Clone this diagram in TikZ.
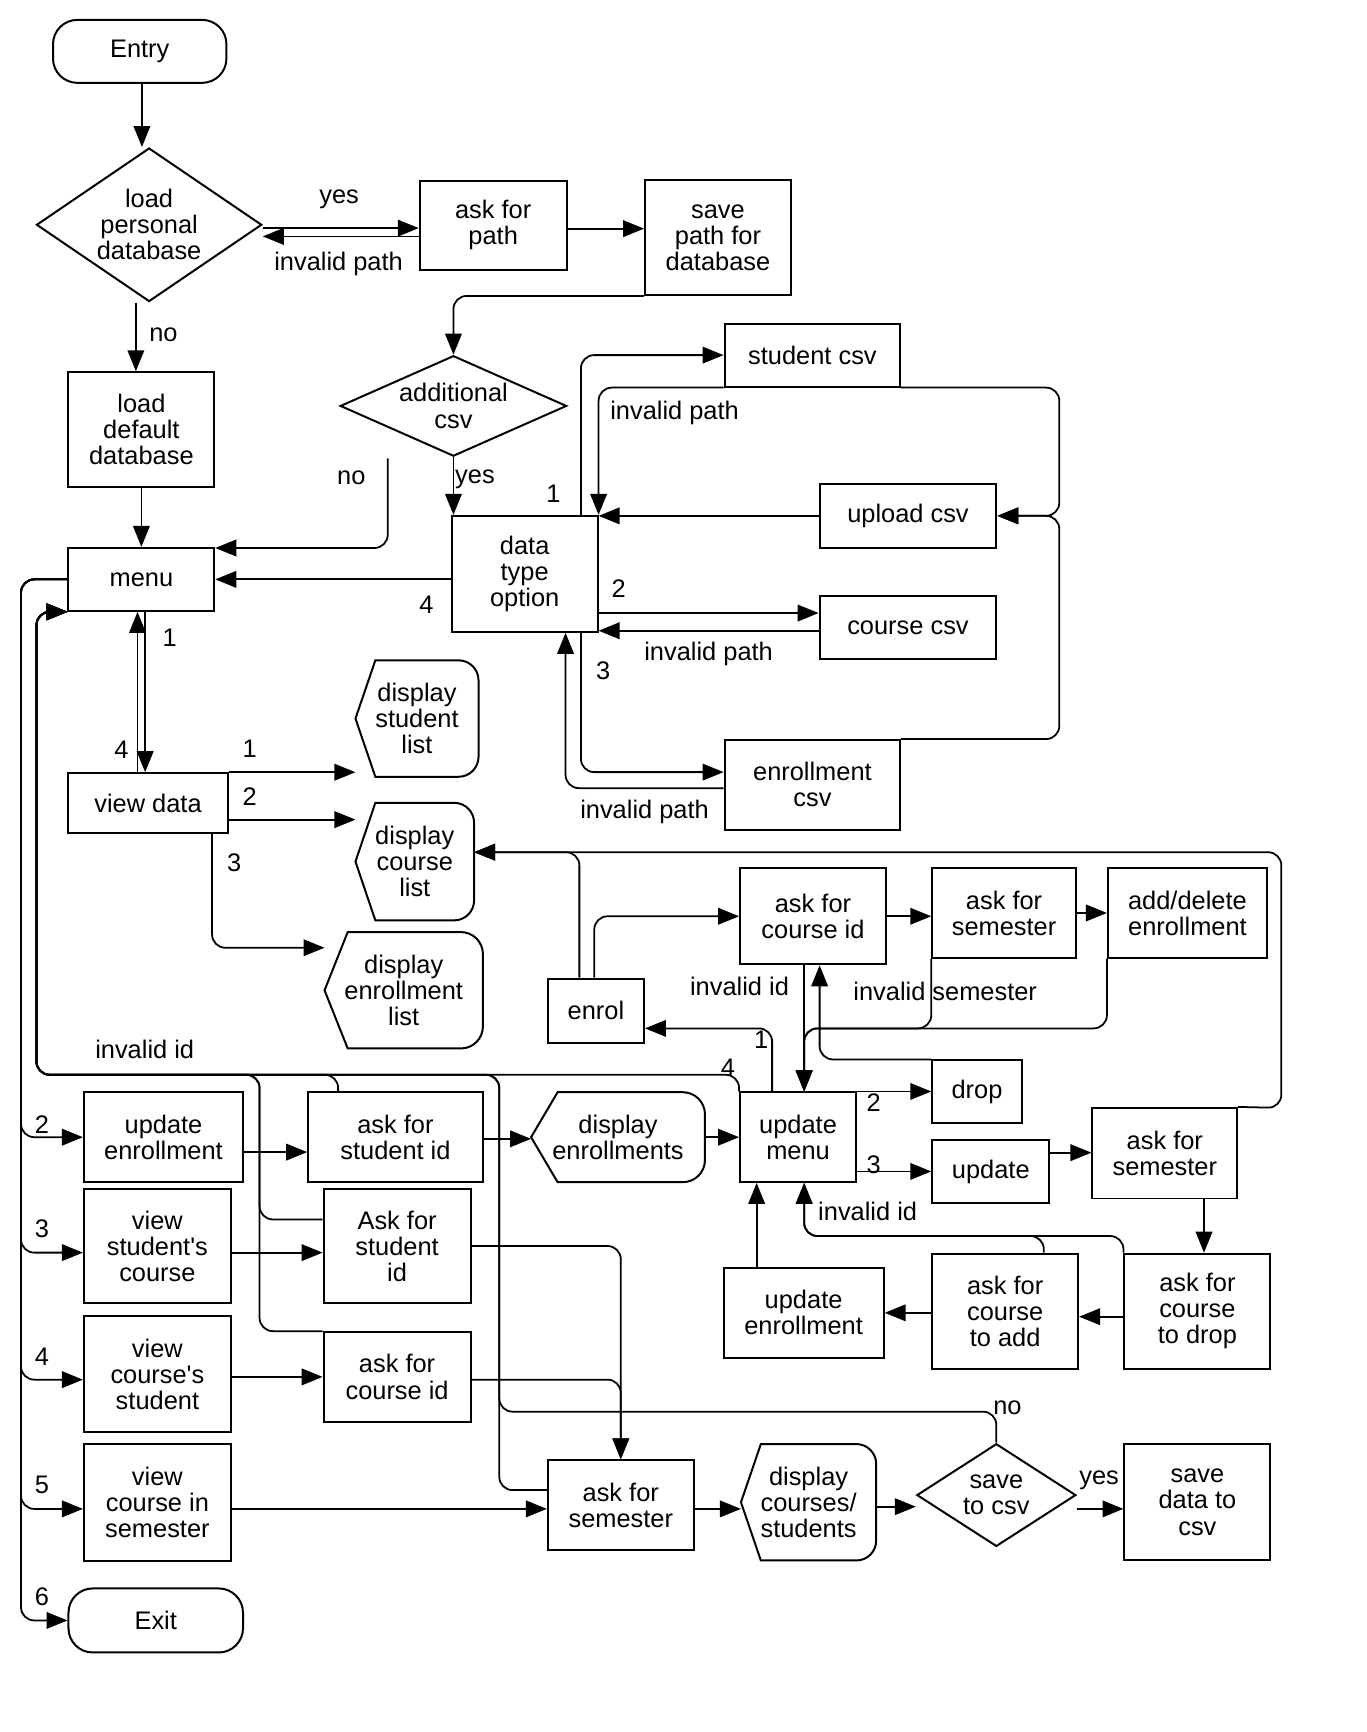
\documentclass[tikz,border=0pt]{standalone}
\usepackage{fontspec}
\setmainfont{Liberation Sans}
\usetikzlibrary{arrows.meta,shapes.geometric}
\newcommand\dispdraw[3]{%
  \draw[line width=1.8pt] ([xshift=#2]#1.north west) [rounded corners=#3]-- (#1.north east) -- (#1.south east) [sharp corners]-- ([xshift=#2]#1.south west) -- (#1.west) -- cycle;}
\begin{document}
\begin{tikzpicture}[x=1pt,y=-1pt,
 font=\fontsize{23}{23.6}\selectfont,
 box/.style={draw, line width=1.8pt, inner sep=0pt, align=center},
 term/.style={box, rounded corners=22pt},
 dia/.style={box, shape=diamond},
 dispbox/.style={inner sep=0pt, align=center},
 arr/.style={line width=1.6pt, -{Triangle[length=19pt,width=15pt]}},
 rarr/.style={arr, rounded corners=12pt},
 lbl/.style={inner sep=0pt, anchor=base},
]
\fill[white] (0,0) rectangle (1237,1568);
\useasboundingbox (0,0) rectangle (1237,1568);

% nodes
\node[term, minimum width=157pt, minimum height=57pt] (entry) at (126.5,46.5) {Entry};
\node[dia, aspect=1.47, minimum width=204pt, minimum height=139pt] (lpd) at (135,203.5) {load\\personal\\database};
\node[box, minimum width=133pt, minimum height=81pt] (askpath) at (446.5,204) {ask for\\path};
\node[box, minimum width=132pt, minimum height=104pt] (savepath) at (650,215) {save\\path for\\database};
\node[box, minimum width=132pt, minimum height=104pt] (loaddef) at (128,389) {load\\default\\database};
\node[dia, aspect=2.25, minimum width=205pt, minimum height=91pt] (addcsv) at (410.5,367.5) {additional\\csv};
\node[box, minimum width=159pt, minimum height=57pt] (studentcsv) at (735.5,321.5) {student csv};
\node[box, minimum width=160pt, minimum height=58pt] (uploadcsv) at (822,467) {upload csv};
\node[box, minimum width=132pt, minimum height=105pt] (dto) at (475,519.5) {data\\type\\option};
\node[box, minimum width=132pt, minimum height=57pt] (menu) at (128,524.5) {menu};
\node[box, minimum width=160pt, minimum height=57pt] (coursecsv) at (822,568.5) {course csv};
\node[box, minimum width=159pt, minimum height=81pt] (enrcsv) at (735.5,710.5) {enrollment\\csv};
\node[dispbox, minimum width=111pt, minimum height=105pt] (dsl) at (377.5,650.5) {display\\student\\list};
\node[box, minimum width=144pt, minimum height=54pt] (viewdata) at (134,727) {view data};
\node[dispbox, minimum width=107pt, minimum height=106pt] (dcl) at (375.5,780) {display\\course\\list};
\node[dispbox, minimum width=143pt, minimum height=105pt] (del) at (365.5,896.5) {display\\enrollment\\list};
\node[box, minimum width=87pt, minimum height=58pt] (enrol) at (539.5,915) {enrol};
\node[box, minimum width=132pt, minimum height=87pt] (acid1) at (736,829.5) {ask for\\course id};
\node[box, minimum width=130pt, minimum height=81pt] (asem1) at (909,826.5) {ask for\\semester};
\node[box, minimum width=144pt, minimum height=81pt] (adddel) at (1075,826.5) {add/delete\\enrollment};
\node[box, minimum width=81pt, minimum height=57pt] (drop) at (884.5,988.5) {drop};
\node[box, minimum width=105pt, minimum height=81pt] (updmenu) at (722.5,1029.5) {update\\menu};
\node[box, minimum width=106pt, minimum height=57pt] (update) at (897,1060.5) {update};
\node[box, minimum width=131pt, minimum height=82pt] (asem2) at (1054.5,1044) {ask for\\semester};
\node[box, minimum width=144pt, minimum height=81pt] (updenr1) at (148,1029.5) {update\\enrollment};
\node[box, minimum width=158pt, minimum height=81pt] (asid1) at (358,1029.5) {ask for\\student id};
\node[dispbox, minimum width=157pt, minimum height=81pt] (dens) at (559.5,1029.5) {display\\enrollments};
\node[box, minimum width=133pt, minimum height=104pt] (vsc) at (142.5,1128) {view\\student\textquotesingle s\\course};
\node[box, minimum width=133pt, minimum height=104pt] (asid2) at (359.5,1128) {Ask for\\student\\id};
\node[box, minimum width=145pt, minimum height=82pt] (updenr2) at (727.5,1188.5) {update\\enrollment};
\node[box, minimum width=132pt, minimum height=104pt] (acadd) at (910,1187) {ask for\\course\\to add};
\node[box, minimum width=132pt, minimum height=104pt] (acdrop) at (1084,1187) {ask for\\course\\to drop};
\node[box, minimum width=133pt, minimum height=105pt] (vcs) at (142.5,1244) {view\\course\textquotesingle s\\student};
\node[box, minimum width=133pt, minimum height=81pt] (acid2) at (359.5,1246.5) {ask for\\course id};
\node[box, minimum width=133pt, minimum height=106pt] (vcis) at (142.5,1360) {view\\course in\\semester};
\node[box, minimum width=132pt, minimum height=81pt] (asem3) at (562,1362.5) {ask for\\semester};
\node[dispbox, minimum width=122pt, minimum height=105pt] (dcs) at (732,1360) {display\\courses/\\students};
\node[dia, aspect=1.55, minimum width=144pt, minimum height=93pt] (save2csv) at (902,1353.5) {save\\to csv};
\node[box, minimum width=132pt, minimum height=105pt] (savedata) at (1084,1360) {save\\data to\\csv};
\node[term, minimum width=158pt, minimum height=58pt] (exit) at (141,1467) {Exit};

\dispdraw{dsl}{18pt}{18pt}
\dispdraw{dcl}{18pt}{18pt}
\dispdraw{del}{21pt}{20pt}
\dispdraw{dens}{24pt}{20pt}
\dispdraw{dcs}{18pt}{18pt}

% top connectors
\draw[arr] ([xshift=2pt]entry.south) -- ([xshift=2pt]entry.south |- lpd.north);
\draw[arr] ([yshift=-3pt]lpd.east) -- ([yshift=-3pt]lpd.east -| askpath.west);
\draw[arr] ([yshift=-10pt]askpath.west) -- ([yshift=-10pt]askpath.west -| lpd.east);
\draw[arr] ([yshift=-3pt]askpath.east) -- ([yshift=-3pt]askpath.east -| savepath.west);
\draw[rarr] (savepath.south west) -| (addcsv.north);
\draw[arr] ([xshift=-12pt]lpd.south) -- ([xshift=-12pt]lpd.south |- loaddef.north);
\draw[arr] (loaddef.south) -- (menu.north);
\coordinate (nostart) at (351,415);
\draw[rarr] (nostart) |- ([yshift=-1pt]menu.north east);
\draw[arr] (addcsv.south) -- (addcsv.south |- dto.north);
\draw[rarr] ([xshift=-16pt]dto.north east) |- (studentcsv.west);
\draw[rarr] (studentcsv.south west) -| (dto.north east);
\coordinate (rbus) at (959,467);
\draw[rarr] (studentcsv.south east) -| (rbus) -- (uploadcsv.east);
\draw[rarr] (enrcsv.north east) -| (rbus) -- (uploadcsv.east);
\draw[arr] (uploadcsv.west) -- (uploadcsv.west -| dto.east);
\draw[arr] ([yshift=13.5pt]coursecsv.west -| dto.east) -- ([yshift=13.5pt]coursecsv.west);
\draw[arr] ([yshift=-2.5pt]coursecsv.west) -- ([yshift=-2.5pt]coursecsv.west -| dto.east);
\draw[rarr] ([xshift=-16pt]dto.south east) |- ([yshift=11.5pt]enrcsv.west);
\draw[rarr] ([yshift=-3pt]enrcsv.west) -| ([xshift=37pt]dto.south);
\draw[arr] ([yshift=-5pt]dto.west) -- ([yshift=-5pt]dto.west -| menu.east);
\draw[arr] ([xshift=3.4pt]menu.south) -- ([xshift=3.4pt]menu.south |- viewdata.north);
\draw[arr] ([xshift=-3.5pt]menu.south |- viewdata.north) -- ([xshift=-3.5pt]menu.south);
\draw[arr] (viewdata.north east) -- (viewdata.north east -| dsl.west);
\draw[arr] ([yshift=-15pt]viewdata.east) -- ([yshift=-15pt]viewdata.east -| dcl.west);
\draw[rarr] ([xshift=58pt]viewdata.south) |- ([yshift=38.5pt]del.west);

% outer bus from menu
\coordinate (obus) at (19,524.5);
\draw[rarr] (menu.west) -- (obus) |- (updenr1.west);
\draw[rarr] (menu.west) -- (obus) |- ([yshift=-6pt]vsc.west);
\draw[rarr] (menu.west) -- (obus) |- ([yshift=-5pt]vcs.west);
\draw[rarr] (menu.west) -- (obus) |- ([yshift=-6pt]vcis.west);
\draw[rarr] (menu.west) -- (obus) |- (exit.west);

% inner bus back to menu
\coordinate (ibus) at (33,973);
\coordinate (vb1) at (235,973);
\coordinate (vb2) at (452,973);
\coordinate (nobend) at (452,1278);
\draw[rarr] (updmenu.north west) |- (ibus) |- (menu.south west);
\draw[rarr] ([xshift=28pt]asid1.north west) |- (ibus) |- (menu.south west);
\draw[rarr] ([yshift=24pt]asid2.west) -| (vb1) -- (ibus) |- (menu.south west);
\draw[rarr] (acid2.north west) -| (vb1) -- (ibus) |- (menu.south west);
\draw[rarr] ([yshift=13.5pt]asem3.west) -| (vb2) -- (ibus) |- (menu.south west);
\draw[rarr] (save2csv.north) |- (nobend) -- (vb2) -- (ibus) |- (menu.south west);

% middle
\coordinate (sbend) at (1160,1003);
\draw[rarr] ([xshift=-15pt]enrol.north) |- ([yshift=8.5pt]dcl.east);
\draw[rarr] (asem2.north east) -- (sbend) |- ([yshift=8.5pt]dcl.east);
\draw[rarr] ([xshift=-1.5pt]enrol.north) |- (acid1.west);
\draw[arr] (acid1.east) -- (acid1.east -| asem1.west);
\draw[arr] (asem1.east) -- (asem1.east -| adddel.west);
\draw[rarr] ([xshift=-23.5pt]updmenu.north) |- ([yshift=-16pt]enrol.east);
\draw[arr] ([xshift=5.5pt]updmenu.north |- acid1.south) -- ([xshift=5.5pt]updmenu.north);
\coordinate (mj) at (728,931);
\draw[rarr] (asem1.south west) |- (mj) -- ([xshift=5.5pt]updmenu.north);
\draw[rarr] (adddel.south west) |- (mj) -- ([xshift=5.5pt]updmenu.north);
\draw[rarr] (drop.north west) -| ([xshift=6pt]acid1.south);
\draw[arr] (updmenu.north east) -- (updmenu.north east -| drop.west);
\draw[arr] (update.west -| updmenu.east) -- (update.west);
\draw[arr] ([yshift=17pt]update.east) -- ([yshift=17pt]update.east -| asem2.west);
\draw[arr] ([xshift=6pt]acdrop.north |- asem2.south) -- ([xshift=6pt]acdrop.north);
\draw[arr] ([yshift=-5pt]acdrop.west) -- ([yshift=-5pt]acdrop.west -| acadd.east);
\draw[arr] (updenr2.east -| acadd.west) -- (updenr2.east);
\draw[arr] ([xshift=-37.5pt]updmenu.south |- updenr2.north) -- ([xshift=-37.5pt]updmenu.south);
\coordinate (mk) at (728,1119);
\draw[rarr] ([xshift=35pt]acadd.north) |- (mk) -- ([xshift=5.5pt]updmenu.south);
\draw[rarr] (acdrop.north west) |- (mk) -- ([xshift=5.5pt]updmenu.south);

% lower left
\draw[arr] ([yshift=-13.5pt]updenr1.east) -- ([yshift=-13.5pt]updenr1.east -| asid1.west);
\draw[arr] ([yshift=-1.5pt]asid1.east) -- ([yshift=-1.5pt]asid1.east -| dens.west);
\draw[arr] (dens.east) -- (dens.east -| updmenu.west);
\draw[arr] ([yshift=-6pt]vsc.east) -- ([yshift=-6pt]vsc.east -| asid2.west);
\draw[rarr] (asid2.east) -| (asem3.north);
\draw[arr] (acid2.west -| vcs.east) -- (acid2.west);
\draw[rarr] ([yshift=-2.5pt]acid2.east) -| (asem3.north);
\draw[arr] ([yshift=-6pt]vcis.east) -- ([yshift=-6pt]vcis.east -| asem3.west);
\draw[arr] ([yshift=-3.5pt]asem3.east) -- ([yshift=-3.5pt]asem3.east -| dcs.west);
\draw[arr] ([yshift=-4pt]dcs.east) -- ([yshift=-4pt]dcs.east -| save2csv.west);
\draw[arr] ([yshift=-12.5pt]save2csv.east) -- ([yshift=-12.5pt]save2csv.east -| savedata.west);

% labels
\node[lbl] (t1) at (307,184) {yes};
\node[lbl] (t2) at (306.5,244.5) {invalid path};
\node[lbl] (t3) at (148,309) {no};
\node[lbl] (t4) at (318,439) {no};
\node[lbl] (t5) at (430,437.5) {yes};
\node[lbl] (t6) at (501,455) {1};
\node[lbl] (t7) at (610.7,380) {invalid path};
\node[lbl] (t8) at (560,540.5) {2};
\node[lbl] (t9) at (641.5,597.6) {invalid path};
\node[lbl] (t10) at (546,615) {3};
\node[lbl] (t11) at (386,555) {4};
\node[lbl] (t12) at (153.6,585.6) {1};
\node[lbl] (t13) at (110,687) {4};
\node[lbl] (t14) at (226,685.5) {1};
\node[lbl] (t15) at (226,729) {2};
\node[lbl] (t16) at (212,788.6) {3};
\node[lbl] (t17) at (583.5,741) {invalid path};
\node[lbl] (t18) at (131,958) {invalid id};
\node[lbl] (t19) at (669.5,901) {invalid id};
\node[lbl] (t20) at (855.7,905.6) {invalid semester};
\node[lbl] (t21) at (689,949) {1};
\node[lbl] (t22) at (659,975) {4};
\node[lbl] (t23) at (791,1005.8) {2};
\node[lbl] (t24) at (791,1062) {3};
\node[lbl] (t25) at (785.5,1104.8) {invalid id};
\node[lbl] (t26) at (912,1280.5) {no};
\node[lbl] (t27) at (995,1344) {yes};
\node[lbl] (t28) at (38,1026) {2};
\node[lbl] (t29) at (38,1120) {3};
\node[lbl] (t30) at (38,1236) {4};
\node[lbl] (t31) at (38,1351.7) {5};
\node[lbl] (t32) at (38,1453.4) {6};
\end{tikzpicture}
\end{document}
